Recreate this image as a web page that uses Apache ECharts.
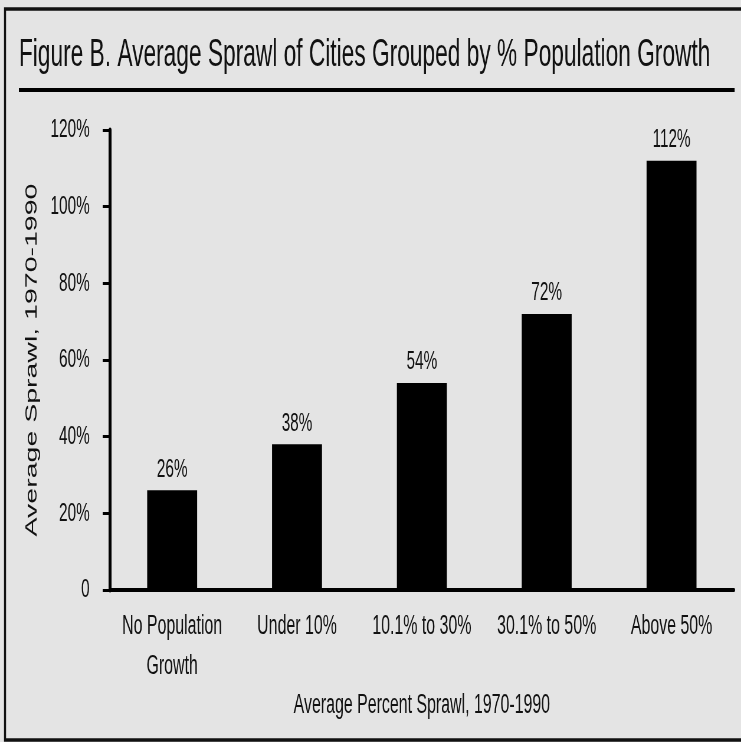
<!DOCTYPE html>
<html>
<head>
<meta charset="utf-8">
<script src="https://cdn.jsdelivr.net/npm/echarts@6/dist/echarts.min.js"></script>
<style>
  html, body { margin: 0; padding: 0; background: #e4e4e4; overflow: hidden; }
  /* the source picture is squeezed sideways, so draw wide and squeeze back */
  #chart { width: 1256px; height: 742px; transform: scaleX(0.59); transform-origin: 0 0; }
</style>
</head>
<body>
<div id="chart"></div>
<script>
var categories = ['No Population\nGrowth', 'Under 10%', '10.1% to 30%', '30.1% to 50%', 'Above 50%'];
var sprawl = [26, 38, 54, 72, 112];
var yTicks = [0, 20, 40, 60, 80, 100, 120];

var font = "'Liberation Sans', Arial, sans-serif";
var chart = echarts.init(document.getElementById('chart'));
chart.setOption({
    backgroundColor: '#e4e4e4',
    animation: false,
    grid: { left: 186, right: 12, top: 130, bottom: 152 },
    graphic: [
        { type: 'rect', shape: { x: 8.5, y: 9, width: 1400, height: 731 },
          style: { fill: 'none', stroke: '#111', lineWidth: 3.5 } },
        { type: 'text', left: 32, top: 36,
          style: { text: 'Figure B. Average Sprawl of Cities Grouped by % Population Growth',
                   font: '38.5px ' + font, fill: '#111' } },
        { type: 'rect', shape: { x: 32, y: 88, width: 1213, height: 4 }, style: { fill: '#000' } }
    ],
    xAxis: {
        type: 'category',
        data: categories,
        name: 'Average Percent Sprawl, 1970-1990',
        nameLocation: 'middle',
        nameGap: 101,
        nameTextStyle: { fontFamily: font, fontSize: 27, color: '#111' },
        axisLine: { lineStyle: { color: '#000', width: 4 } },
        axisTick: { show: false },
        axisLabel: { fontFamily: font, fontSize: 27, lineHeight: 40, color: '#111', margin: 17, interval: 0 }
    },
    yAxis: {
        type: 'value',
        min: yTicks[0],
        max: yTicks[yTicks.length - 1],
        interval: yTicks[1] - yTicks[0],
        name: 'Average Sprawl, 1970-1990',
        nameLocation: 'middle',
        nameRotate: 90,
        nameGap: 117,
        nameTextStyle: { fontFamily: font, fontSize: 28.5, color: '#111' },
        axisLine: { show: true, lineStyle: { color: '#000', width: 5 } },
        axisTick: { show: true, length: 12, lineStyle: { color: '#000', width: 3 } },
        splitLine: { show: false },
        axisLabel: {
            fontFamily: font, fontSize: 26, color: '#111', margin: 34,
            formatter: function (v) { return v === 0 ? '0' : v + '%'; }
        }
    },
    series: [{
        type: 'bar',
        data: sprawl,
        barWidth: '40%',
        itemStyle: { color: '#000' },
        label: {
            show: true, position: 'top', distance: 8,
            fontFamily: font, fontSize: 26, color: '#111',
            formatter: '{c}%'
        }
    }]
});
</script>
</body>
</html>
